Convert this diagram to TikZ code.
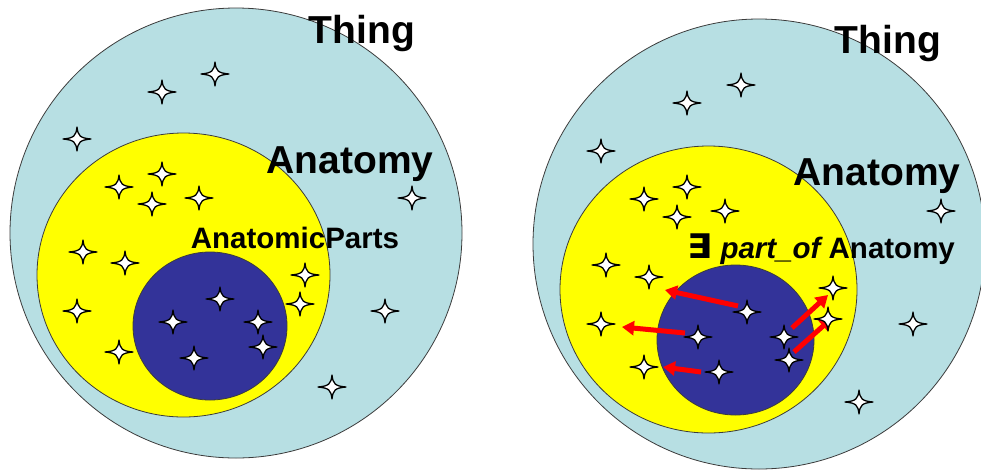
\documentclass[tikz,border=0pt]{standalone}
\usepackage{fontspec}
\usepackage{graphicx}
\setmainfont{Liberation Sans}
\newfontfamily\symfont{DejaVu Sans}
\usetikzlibrary{arrows.meta}
\definecolor{thingblue}{RGB}{183,223,227}
\definecolor{anatyellow}{RGB}{255,255,0}
\definecolor{partblue}{RGB}{51,51,153}
\definecolor{arrowred}{RGB}{255,0,0}
\definecolor{edgegray}{RGB}{60,60,60}
\tikzset{
  setregion/.style={draw=edgegray, line width=0.8pt},
  bigtext/.style={inner sep=0pt, anchor=base, font=\bfseries\fontsize{39}{40}\selectfont},
  midtext/.style={inner sep=0pt, anchor=base, font=\bfseries\fontsize{29.5}{31}\selectfont},
  relarrow/.style={draw=arrowred, line width=5pt, -{Triangle[length=12pt,width=14pt]}},
  sparkle/.pic={
    \draw[black, line width=1.3pt, fill=white, line join=round]
      (14,0) .. controls (3,1) and (1,3) .. (0,12)
      .. controls (-1,3) and (-3,1) .. (-14,0)
      .. controls (-3,-1) and (-1,-3) .. (0,-12)
      .. controls (1,-3) and (3,-1) .. cycle;
  }
}
\begin{document}
\begin{tikzpicture}[x=1pt,y=-1pt]
\clip (0,0) rectangle (981,472);
\fill[white] (0,0) rectangle (981,472);
% ---------- left diagram ----------
\path[setregion, fill=thingblue] (236,233) ellipse [x radius=226, y radius=225];
\path[setregion, fill=anatyellow] (183.5,275) ellipse [x radius=146.5, y radius=142];
\path[setregion, fill=partblue] (210,326) ellipse [x radius=77, y radius=74];
\node[bigtext] (lthing) at (362,43) {Thing};
\node[bigtext] (lanat) at (350,173) {Anatomy};
\node[midtext] (lparts) at (295,248) {AnatomicParts};
\foreach \px/\py [count=\i] in {162/92, 215/74, 77/139, 162/174, 119/187, 152/204, 199/198, 412/198,
  83/252, 125/263, 305/275, 300/304, 77/311, 385/311, 220/299, 173/322, 258/322, 263/347,
  194/358, 119/352, 332/387} {
  \coordinate (L\i) at (\px,\py);
  \pic at (L\i) {sparkle};
}
% ---------- right diagram ----------
\path[setregion, fill=thingblue] (759,244) ellipse [x radius=226, y radius=225];
\path[setregion, fill=anatyellow] (708.5,289.5) ellipse [x radius=148.5, y radius=143.5];
\path[setregion, fill=partblue] (735.5,340) ellipse [x radius=78.5, y radius=75];
\node[bigtext] (rthing) at (888,53) {Thing};
\node[bigtext] (ranat) at (877,185) {Anatomy};
\node[midtext] (rpart) at (821,258) {{\symfont\bfseries\scalebox{1.25}[1.15]{∃}} {\bfseries\itshape part\_of} Anatomy};
\coordinate (a1s) at (738,306); \coordinate (a1e) at (665,290);
\coordinate (a2s) at (685,333); \coordinate (a2e) at (622,327);
\coordinate (a3s) at (701,372); \coordinate (a3e) at (663,367);
\coordinate (a4s) at (792,328); \coordinate (a4e) at (828,295);
\coordinate (a5s) at (794,352); \coordinate (a5e) at (832,318);
\draw[relarrow] (a1s) -- (a1e);
\draw[relarrow] (a2s) -- (a2e);
\draw[relarrow] (a3s) -- (a3e);
\draw[relarrow] (a4s) -- (a4e);
\draw[relarrow] (a5s) -- (a5e);
\foreach \px/\py [count=\i] in {687/103, 741/85, 601/151, 687/187, 644/199, 677/217, 725/211, 941/211,
  606/265, 649/277, 833/288, 828/319, 601/324, 913/324, 747/312, 698/337, 784/337, 789/360,
  719/372, 644/367, 859/402} {
  \coordinate (R\i) at (\px,\py);
  \pic at (R\i) {sparkle};
}
\end{tikzpicture}
\end{document}
